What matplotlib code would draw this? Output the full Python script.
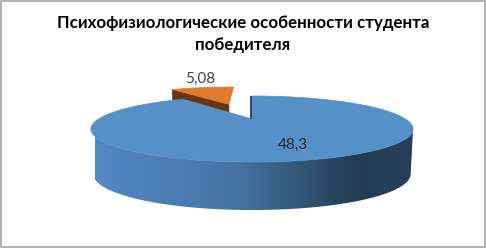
import numpy as np
import matplotlib
matplotlib.use("Agg")
import matplotlib.pyplot as plt
from matplotlib.patches import Polygon, Rectangle
from matplotlib.colors import LinearSegmentedColormap

# ---- data ----
title = "Психофизиологические особенности студента\nпобедителя"
values = [48.3, 5.08]
labels = ["48,3", "5,08"]
top_colors = ["#5590c8", "#df7a30"]
wall_colors = ["#2b4866", "#6a3511"]
explode = [0.0, 0.6]

# ---- projection (simple perspective of the pie plane) ----
W, H_px = 486, 249
cx, cy0 = 252.0, 119.0
A, B, k = 153.5, 30.0, 0.303
Hd, k2, sb = 43.8, 0.0873, 0.985


def proj(u, v, bottom=False):
    u = np.asarray(u, float)
    v = np.asarray(v, float)
    den = 1 + k * v
    x = A * u / den
    y = cy0 - B * v / den
    if bottom:
        x = x * sb
        y = y + Hd / (1 + k2 * v)
    return np.column_stack([cx + x, y])


fig = plt.figure(figsize=(W / 100, H_px / 100), dpi=100)
ax = fig.add_axes([0, 0, 1, 1])
ax.set_xlim(0, W)
ax.set_ylim(H_px, 0)
ax.axis("off")

total = sum(values)
angles = np.cumsum([0] + [v / total * 360 for v in values])

side_cmap = LinearSegmentedColormap.from_list(
    "side", [(0.0, "#5189c6"), (0.45, "#44739f"), (0.82, "#243b52"), (1.0, "#27415a")])


def wedge(i, zbase):
    a0, a1 = np.radians(angles[i]), np.radians(angles[i + 1])
    am = (a0 + a1) / 2
    ou, ov = explode[i] * np.sin(am), explode[i] * np.cos(am)
    th = np.linspace(a0, a1, 200)
    ru, rv = np.sin(th) + ou, np.cos(th) + ov
    if i == 0:
        # visible front part of the outer wall, filled with a horizontal gradient
        ts = np.arccos(-k)
        lo, hi = max(a0, ts), min(a1, 2 * np.pi - ts)
        tf = np.linspace(lo, hi, 200)
        fu, fv = np.sin(tf) + ou, np.cos(tf) + ov
        wall = np.vstack([proj(fu, fv), proj(fu[::-1], fv[::-1], bottom=True)])
        poly = Polygon(wall, closed=True, fc="none", ec="none", zorder=zbase)
        ax.add_patch(poly)
        grad = np.linspace(0, 1, 400)[None, :]
        im = ax.imshow(grad, cmap=side_cmap, extent=(95, 415, 215, 120), aspect="auto",
                       interpolation="bilinear", zorder=zbase)
        im.set_clip_path(poly)
    else:
        tip_t = proj([ou], [ov])[0]
        rim_t = proj([ru[0]], [rv[0]])[0]
        tip_b = proj([ou], [ov], bottom=True)[0]
        rim_b = proj([ru[0]], [rv[0]], bottom=True)[0]
        ax.add_patch(Polygon([tip_t, rim_t, rim_b, tip_b], closed=True,
                             fc=wall_colors[i], ec=wall_colors[i], lw=0.5, zorder=zbase + 0.5))
    # top face
    pts = np.vstack([proj([ou], [ov]), proj(ru, rv)])
    ax.add_patch(Polygon(pts, closed=True, fc=top_colors[i], ec=top_colors[i], lw=0.5, zorder=zbase + 1))
    if i == 0:
        edge = proj([ou, ru[0]], [ov, rv[0]])
        ax.plot(edge[:, 0] - 0.6, edge[:, 1], color=wall_colors[0], lw=1.4, zorder=zbase + 2,
                solid_capstyle="butt")


# orange slice behind, blue on top
wedge(1, 1)
wedge(0, 3)

# labels
ax.text(293, 145, labels[0], ha="center", va="center", fontsize=11,
        color="#262626", family="Lato", zorder=10)
ax.text(200, 79, labels[1], ha="center", va="center", fontsize=11,
        color="#404040", family="Lato", zorder=10)

# title
ax.text(243, 34, title, ha="center", va="center", fontsize=12.2, fontweight="bold",
        color="#000000", family="Lato", linespacing=1.42, zorder=10)

# chart border
ax.add_patch(Rectangle((0.8, 0.8), W - 1.6, H_px - 2.6, fill=False, ec="#b0b0b0", lw=1.4, zorder=11))

fig.savefig("out.png", dpi=100)
